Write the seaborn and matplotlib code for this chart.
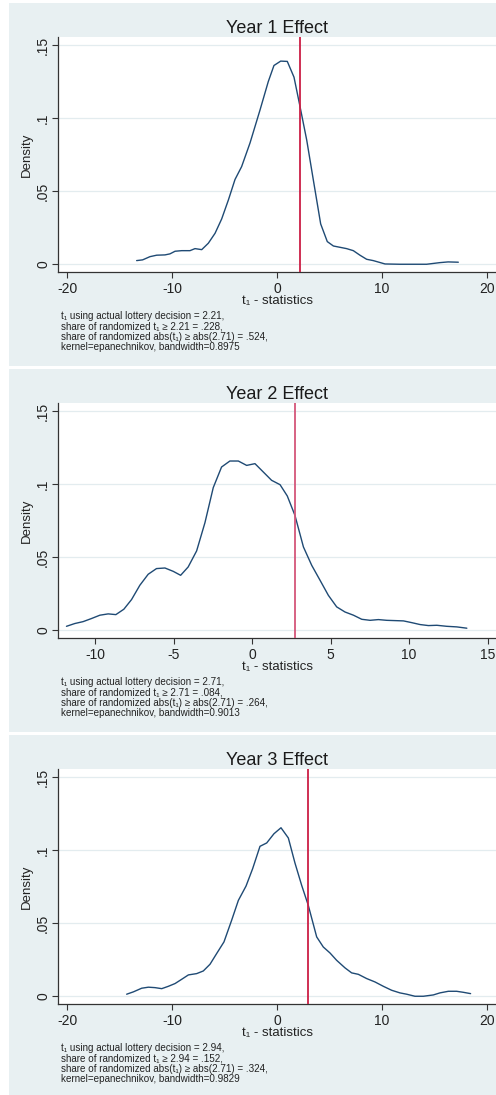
import numpy as np
import pandas as pd
import seaborn as sns
import matplotlib.pyplot as plt
from matplotlib.patches import Rectangle

# kernel density curves (t-statistic, density)
y1_t = [-13.37, -12.8, -12.1, -11.46, -10.67, -10.2, -9.71, -9.08, -8.29, -7.81, -7.17,
        -6.54, -5.9, -5.27, -4.63, -4.0, -3.37, -2.57, -1.62, -0.83, -0.29, 0.35, 0.98,
        1.62, 2.19, 2.83, 3.46, 4.16, 4.79, 5.37, 6.63, 7.27, 7.9, 8.54, 9.17, 10.29,
        11.7, 14.25, 15.5, 16.3, 17.27]
y1_d = [0.0025, 0.003, 0.0052, 0.0062, 0.0064, 0.0071, 0.0089, 0.0093, 0.0093, 0.0107, 0.0100,
        0.0144, 0.0212, 0.031, 0.044, 0.058, 0.0668, 0.083, 0.1055, 0.125, 0.136, 0.139, 0.1388,
        0.128, 0.108, 0.085, 0.0577, 0.0276, 0.0155, 0.0125, 0.0107, 0.0093, 0.0062, 0.0034, 0.0025, 0.0002,
        0.0, 0.0, 0.0011, 0.0016, 0.0014]

y2_t = [-11.85, -11.32, -10.79, -10.26, -9.72, -9.19, -8.70, -8.19, -7.70, -7.17, -6.64,
        -6.11, -5.57, -5.04, -4.57, -4.09, -3.55, -3.02, -2.49, -1.96, -1.43, -0.89, -0.36,
        0.17, 0.70, 1.23, 1.77, 2.23, 2.72, 3.26, 3.79, 4.32, 4.85, 5.38, 5.91, 6.45, 6.98,
        7.51, 8.04, 8.57, 9.11, 9.64, 10.17, 10.70, 11.23, 11.77, 12.40, 13.04, 13.68]
y2_d = [0.0027, 0.0046, 0.0059, 0.008, 0.0103, 0.0112, 0.0107, 0.0144, 0.021, 0.0308, 0.0383,
        0.0422, 0.0426, 0.0403, 0.0376, 0.0433, 0.0543, 0.0736, 0.0976, 0.1117, 0.1158, 0.1158, 0.1128,
        0.114, 0.1083, 0.1026, 0.0996, 0.0919, 0.0786, 0.057, 0.0444, 0.0342, 0.0239, 0.016, 0.0125, 0.0103, 0.0075,
        0.0068, 0.0073, 0.0068, 0.0066, 0.0064, 0.0052, 0.0039, 0.0032, 0.0034, 0.0027, 0.0023, 0.0014]

y3_t = [-14.32, -13.68, -12.89, -12.25, -11.62, -10.98, -10.35, -9.71, -9.08, -8.44, -7.65,
        -7.02, -6.38, -5.75, -5.05, -4.32, -3.68, -2.95, -2.32, -1.62, -0.98, -0.29, 0.38,
        1.08, 1.71, 2.35, 2.98, 3.78, 4.41, 5.05, 5.68, 6.48, 7.11, 7.75, 8.54, 9.33, 10.13,
        10.92, 11.71, 12.35, 13.14, 13.94, 14.89, 15.52, 16.32, 17.11, 17.75, 18.44]
y3_d = [0.0014, 0.003, 0.0055, 0.0062, 0.0059, 0.0052, 0.0068, 0.0087, 0.0116, 0.0146, 0.0155,
        0.0173, 0.0219, 0.0292, 0.0372, 0.052, 0.0656, 0.0754, 0.0873, 0.1026, 0.1049, 0.1112, 0.1153,
        0.1083, 0.0912, 0.0759, 0.0622, 0.0406, 0.0337, 0.0296, 0.0246, 0.0194, 0.016, 0.015, 0.0121, 0.0098, 0.0068,
        0.0041, 0.0023, 0.0014, 0.0, 0.0, 0.0009, 0.0023, 0.0034, 0.0034, 0.0027, 0.0018]

titles = ["Year 1 Effect", "Year 2 Effect", "Year 3 Effect"]
actual_t = [2.21, 2.71, 2.94]
share_pos = [".228", ".084", ".152"]
share_abs = [".524", ".264", ".324"]
bandwidths = ["0.8975", "0.9013", "0.9829"]
x_ticks = [[-20, -10, 0, 10, 20], [-10, -5, 0, 5, 10, 15], [-20, -10, 0, 10, 20]]
y_ticks = [0, 0.05, 0.1, 0.15]
y_ticklabels = ["0", ".05", ".1", ".15"]

sns.set_theme(style="ticks")
plt.rcParams['font.family'] = ['Liberation Sans', 'DejaVu Sans']
plt.rcParams['axes.unicode_minus'] = False

W, H = 496, 1095
fig = plt.figure(figsize=(W / 100, H / 100), dpi=100)
fig.patch.set_facecolor("white")

bg = "#e8f0f2"
panel_px = [(3, 366), (369, 732), (735, 1095)]      # background bands
axes_px = [(37, 272), (403, 638), (769, 1004)]       # plot region top/bottom
xlims = [(-20.86, 20.86), (-12.39, 15.54), (-20.86, 20.86)]
red = ["#cc1f45", "#d4567a", "#cc1f45"]
curves = [(y1_t, y1_d), (y2_t, y2_d), (y3_t, y3_d)]

for i in range(3):
    top, bot = panel_px[i]
    fig.patches.append(Rectangle((9 / W, 1 - bot / H), 1 - 9 / W, (bot - top) / H,
                                 transform=fig.transFigure, facecolor=bg,
                                 edgecolor="none", zorder=-5))
    atop, abot = axes_px[i]
    ax = fig.add_axes([58 / W, 1 - abot / H, 1 - 58 / W, (abot - atop) / H])
    ax.set_zorder(2)
    ax.set_facecolor("white")

    df = pd.DataFrame({"t": curves[i][0], "density": curves[i][1]})
    for yv in y_ticks:
        ax.axhline(yv, color="#e3ecef", lw=0.9, zorder=1)
    sns.lineplot(data=df, x="t", y="density", ax=ax, color="#1f4a74",
                 lw=1.0, sort=False, zorder=3)
    ax.axvline(actual_t[i], color=red[i], lw=1.3, zorder=4)

    ax.set_xlim(*xlims[i])
    ax.set_ylim(-0.0053, 0.1555)
    ax.set_xticks(x_ticks[i])
    ax.set_yticks(y_ticks)
    ax.set_yticklabels(y_ticklabels, rotation=90, va="center")
    ax.tick_params(axis="both", labelsize=10, length=4.5, width=0.8,
                   color="#333333", labelcolor="#222222")
    ax.tick_params(axis="x", pad=3)
    ax.tick_params(axis="y", pad=1.2)
    for s in ["top", "right"]:
        ax.spines[s].set_visible(False)
    for s in ["left", "bottom"]:
        ax.spines[s].set_color("#333333")
        ax.spines[s].set_linewidth(0.9)

    ax.set_title(titles[i], fontsize=13, color="#1a1a1a", pad=3)
    ax.set_xlabel("t\u2081 - statistics", fontsize=9.5, color="#222222", labelpad=-1)
    ax.set_ylabel("Density", fontsize=9.5, color="#222222", labelpad=2)

    note = ("t\u2081 using actual lottery decision = %.2f,\n"
            "share of randomized t\u2081 \u2265 %.2f = %s,\n"
            "share of randomized abs(t\u2081) \u2265 abs(2.71) = %s,\n"
            "kernel=epanechnikov, bandwidth=%s"
            % (actual_t[i], actual_t[i], share_pos[i], share_abs[i], bandwidths[i]))
    fig.text(61 / W, 1 - (abot + 39) / H, note, fontsize=7.1, color="#222222",
             va="top", ha="left", linespacing=1.05)

fig.savefig("out.png", dpi=100, facecolor=fig.get_facecolor())
